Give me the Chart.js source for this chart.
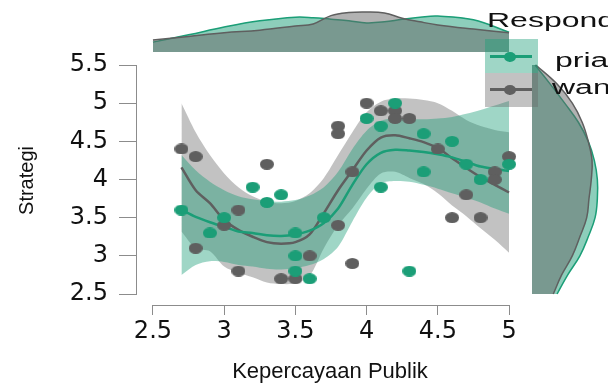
<!DOCTYPE html>
<html>
<head>
<meta charset="utf-8">
<script src="https://cdn.jsdelivr.net/npm/chart.js@4.4.1/dist/chart.umd.min.js"></script>
<style>
  html, body { margin: 0; padding: 0; background: #fff; }
  #wrap { position: relative; width: 608px; height: 385px; overflow: hidden; }
  #wrap canvas { position: absolute; left: 0; top: 0; }
  #legend { position: absolute; left: 0; top: 0; width: 608px; height: 385px; pointer-events: none;
            font-family: 'Liberation Sans', Arial, sans-serif; color: #111; }
  #legend div { position: absolute; }
  .lg-text { font-size: 20px; line-height: 20px; white-space: nowrap; transform: scaleX(1.6); transform-origin: 0 0; }
  .lg-box { width: 53px; height: 34px; }
  .lg-line { width: 42px; height: 3px; }
  .lg-dot { width: 12px; height: 10px; border-radius: 50%; }
</style>
</head>
<body>
<div id="wrap">
  <canvas id="mainChart" width="608" height="385"></canvas>
  <canvas id="topDens" width="608" height="60"></canvas>
  <canvas id="rightDens" width="608" height="385"></canvas>
  <div id="legend">
    <div class="lg-text" style="left:487px; top:10px;">Responden</div>
    <div class="lg-box" id="boxPria" style="left:485px; top:39px;"></div>
    <div class="lg-box" id="boxWanita" style="left:485px; top:73px;"></div>
    <div class="lg-line" id="linePria" style="left:490px; top:55px;"></div>
    <div class="lg-dot" id="dotPria" style="left:504px; top:52px;"></div>
    <div class="lg-line" id="lineWanita" style="left:490px; top:88px;"></div>
    <div class="lg-dot" id="dotWanita" style="left:504px; top:85px;"></div>
    <div class="lg-text" style="left:555px; top:50px;">pria</div>
    <div class="lg-text" style="left:552px; top:77px;">wanita</div>
  </div>
</div>
<script>
// Observations (x = Kepercayaan Publik, y = Strategi)
const priaX = [2.7, 2.9, 3.0, 3.2, 3.3, 3.4, 3.5, 3.5, 3.5, 3.6, 3.7, 4.0, 4.1, 4.1, 4.2, 4.3, 4.4, 4.4, 4.6, 4.7, 4.8, 5.0];
const priaY = [3.6, 3.3, 3.5, 3.9, 3.7, 3.8, 2.8, 3.0, 3.3, 2.7, 3.5, 4.8, 4.7, 3.9, 5.0, 2.8, 4.6, 4.1, 4.5, 4.2, 4.0, 4.2];
const wanitaX = [2.7, 2.8, 2.8, 3.0, 3.1, 3.1, 3.3, 3.4, 3.5, 3.6, 3.8, 3.8, 3.8, 3.9, 3.9, 4.0, 4.1, 4.2, 4.2, 4.3, 4.5, 4.6, 4.7, 4.8, 4.9, 4.9, 5.0];
const wanitaY = [4.4, 4.3, 3.1, 3.4, 3.6, 2.8, 4.2, 2.7, 2.7, 3.0, 4.7, 4.6, 3.4, 4.1, 2.9, 5.0, 4.9, 4.9, 4.8, 4.8, 4.4, 3.5, 3.8, 3.5, 4.1, 4.0, 4.3];

// Smooth fits with confidence bands
const fitX = [2.7, 2.8, 2.9, 3.0, 3.1, 3.2, 3.3, 3.4, 3.5, 3.6, 3.7, 3.8, 3.9, 4.0, 4.1, 4.2, 4.3, 4.4, 4.5, 4.6, 4.7, 4.8, 4.9, 5.0];
const priaFit = [3.60, 3.51, 3.44, 3.38, 3.32, 3.30, 3.27, 3.26, 3.28, 3.33, 3.43, 3.62, 3.93, 4.20, 4.35, 4.39, 4.38, 4.36, 4.33, 4.29, 4.23, 4.17, 4.14, 4.11];
const priaLo = [2.75, 2.88, 2.93, 2.92, 2.88, 2.86, 2.83, 2.82, 2.84, 2.88, 2.96, 3.12, 3.45, 3.76, 3.95, 3.98, 3.97, 3.93, 3.88, 3.82, 3.76, 3.70, 3.62, 3.55];
const priaHi = [4.32, 4.12, 3.97, 3.86, 3.78, 3.74, 3.72, 3.71, 3.73, 3.79, 3.90, 4.10, 4.40, 4.64, 4.77, 4.80, 4.79, 4.79, 4.80, 4.82, 4.86, 4.91, 4.97, 5.03];
const wanitaFit = [4.16, 3.86, 3.69, 3.47, 3.34, 3.25, 3.18, 3.16, 3.18, 3.28, 3.56, 3.86, 4.12, 4.38, 4.55, 4.58, 4.54, 4.49, 4.41, 4.28, 4.15, 4.03, 3.93, 3.83];
const wanitaLo = [3.32, 3.10, 3.06, 2.86, 2.78, 2.72, 2.65, 2.63, 2.64, 2.74, 3.10, 3.40, 3.62, 3.88, 4.08, 4.10, 4.02, 3.94, 3.82, 3.66, 3.52, 3.36, 3.21, 3.04];
const wanitaHi = [5.00, 4.62, 4.32, 4.08, 3.90, 3.78, 3.71, 3.69, 3.72, 3.82, 4.02, 4.32, 4.62, 4.88, 5.02, 5.06, 5.06, 5.04, 5.00, 4.90, 4.78, 4.70, 4.65, 4.62];

// Marginal densities (relative)
const densX = [2.5, 2.75, 3.0, 3.25, 3.5, 3.625, 3.75, 3.875, 4.0, 4.125, 4.25, 4.375, 4.5, 4.75, 5.0];
const priaDensX = [0.19, 0.33, 0.48, 0.60, 0.67, 0.66, 0.63, 0.60, 0.56, 0.58, 0.63, 0.67, 0.69, 0.62, 0.38];
const wanitaDensX = [0.23, 0.30, 0.37, 0.42, 0.50, 0.54, 0.70, 0.76, 0.77, 0.75, 0.65, 0.58, 0.52, 0.44, 0.37];
const densY = [2.5, 2.75, 3.0, 3.25, 3.5, 3.75, 4.0, 4.25, 4.5, 4.75, 5.0, 5.25, 5.5];
const priaDensY = [0.33, 0.47, 0.63, 0.74, 0.83, 0.86, 0.86, 0.82, 0.74, 0.61, 0.43, 0.24, 0.04];
const wanitaDensY = [0.28, 0.39, 0.53, 0.63, 0.72, 0.75, 0.78, 0.79, 0.74, 0.66, 0.53, 0.33, 0.05];

// Axes
const xTicks = [2.5, 3, 3.5, 4, 4.5, 5];
const yTicks = [2.5, 3, 3.5, 4, 4.5, 5, 5.5];
const X_MIN = 2.388, X_MAX = 5.098;
const Y_MIN = 2.356, Y_MAX = 5.618;

const GREEN = '#1b9e77';
const GRAY = '#5f5f5f';
const GREEN_FILL = 'rgba(27,158,119,0.42)';
const GRAY_FILL = 'rgba(102,102,102,0.40)';
const AXIS_COLOR = '#8c8c8c';

const pts = (xs, ys) => xs.map((x, i) => ({ x, y: ys[i] }));

function dotImage(color, w, h) {
  const c = document.createElement('canvas');
  c.width = w; c.height = h;
  const g = c.getContext('2d');
  g.fillStyle = color;
  g.beginPath();
  g.ellipse(w / 2, h / 2, w / 2, h / 2, 0, 0, Math.PI * 2);
  g.fill();
  return c;
}

// legend colours
document.getElementById('boxPria').style.background = GREEN_FILL;
document.getElementById('boxWanita').style.background = GRAY_FILL;
document.getElementById('linePria').style.background = GREEN;
document.getElementById('dotPria').style.background = GREEN;
document.getElementById('lineWanita').style.background = GRAY;
document.getElementById('dotWanita').style.background = GRAY;

// axis lines only between first and last tick, like base R
const axisLines = {
  id: 'axisLines',
  beforeDatasetsDraw(chart) {
    const { ctx, chartArea, scales: { x, y } } = chart;
    ctx.save();
    ctx.strokeStyle = AXIS_COLOR;
    ctx.lineWidth = 1;
    ctx.beginPath();
    ctx.moveTo(x.getPixelForValue(xTicks[0]), chartArea.bottom + 0.5);
    ctx.lineTo(x.getPixelForValue(xTicks[xTicks.length - 1]), chartArea.bottom + 0.5);
    ctx.moveTo(chartArea.left - 0.5, y.getPixelForValue(yTicks[0]));
    ctx.lineTo(chartArea.left - 0.5, y.getPixelForValue(yTicks[yTicks.length - 1]));
    ctx.stroke();
    ctx.restore();
  }
};

const fitLine = (ys, color) => ({
  type: 'line', data: pts(fitX, ys), borderColor: color, borderWidth: 2.5,
  pointRadius: 0, fill: false, tension: 0.3
});
const bandEdge = (ys, fill, color) => ({
  type: 'line', data: pts(fitX, ys), borderWidth: 0, borderColor: 'rgba(0,0,0,0)',
  backgroundColor: color, pointRadius: 0, fill: fill, tension: 0.3
});

new Chart(document.getElementById('mainChart'), {
  type: 'scatter',
  data: {
    datasets: [
      { label: 'pria', data: pts(priaX, priaY), pointStyle: dotImage(GREEN, 14, 11), pointRadius: 7 },
      { label: 'wanita', data: pts(wanitaX, wanitaY), pointStyle: dotImage(GRAY, 14, 11), pointRadius: 7 },
      fitLine(priaFit, GREEN),
      fitLine(wanitaFit, GRAY),
      bandEdge(priaLo, false, GREEN_FILL),
      bandEdge(priaHi, '-1', GREEN_FILL),
      bandEdge(wanitaLo, false, GRAY_FILL),
      bandEdge(wanitaHi, '-1', GRAY_FILL)
    ]
  },
  options: {
    responsive: false,
    animation: false,
    clip: false,
    layout: { padding: { left: 0, right: 85, top: 56, bottom: 0 } },
    plugins: { legend: { display: false }, tooltip: { enabled: false } },
    scales: {
      x: {
        type: 'linear', min: X_MIN, max: X_MAX,
        afterBuildTicks: s => { s.ticks = xTicks.map(v => ({ value: v })); },
        afterFit: s => { s.height = 80; },
        grid: { drawOnChartArea: false, drawTicks: true, tickLength: 10, color: AXIS_COLOR },
        border: { display: false },
        ticks: { font: { family: 'DejaVu Sans', size: 24 }, color: '#111', padding: 2, maxRotation: 0,
                 callback: v => String(v) },
        title: { display: true, text: 'Kepercayaan Publik', color: '#111',
                 font: { family: 'Liberation Sans', size: 22 }, padding: { top: 1, bottom: 0 } }
      },
      y: {
        type: 'linear', min: Y_MIN, max: Y_MAX,
        afterBuildTicks: s => { s.ticks = yTicks.map(v => ({ value: v })); },
        afterFit: s => { s.width = 137; },
        grid: { drawOnChartArea: false, drawTicks: true, tickLength: 18, color: AXIS_COLOR },
        border: { display: false },
        ticks: { font: { family: 'DejaVu Sans', size: 24 }, color: '#111', padding: 11,
                 callback: v => String(v) },
        title: { display: true, text: 'Strategi', color: '#111',
                 font: { family: 'Liberation Sans', size: 20 }, padding: { top: 15, bottom: 0 } }
      }
    }
  },
  plugins: [axisLines]
});

const densLine = (data, color, fillColor) => ({
  data, borderColor: color, borderWidth: 1.5, backgroundColor: fillColor,
  fill: 'origin', pointRadius: 0, tension: 0.4
});

// top margin: density of Kepercayaan Publik
new Chart(document.getElementById('topDens'), {
  type: 'line',
  data: {
    datasets: [
      densLine(pts(densX, wanitaDensX), GRAY, 'rgba(102,102,102,0.5)'),
      densLine(pts(densX, priaDensX), GREEN, 'rgba(27,158,119,0.5)')
    ]
  },
  options: {
    responsive: false, animation: false,
    layout: { padding: { left: 137, right: 85, top: 0, bottom: 8 } },
    plugins: { legend: { display: false }, tooltip: { enabled: false } },
    scales: {
      x: { type: 'linear', min: X_MIN, max: X_MAX, display: false },
      y: { type: 'linear', min: 0, max: 1, display: false }
    }
  }
});

// right margin: density of Strategi
new Chart(document.getElementById('rightDens'), {
  type: 'line',
  data: {
    datasets: [
      densLine(pts(wanitaDensY, densY), GRAY, 'rgba(102,102,102,0.5)'),
      densLine(pts(priaDensY, densY), GREEN, 'rgba(27,158,119,0.5)')
    ]
  },
  options: {
    indexAxis: 'y',
    responsive: false, animation: false,
    layout: { padding: { left: 532, right: 0, top: 56, bottom: 80 } },
    plugins: { legend: { display: false }, tooltip: { enabled: false } },
    scales: {
      x: { type: 'linear', min: 0, max: 1, display: false },
      y: { type: 'linear', min: Y_MIN, max: Y_MAX, display: false }
    }
  }
});
</script>
</body>
</html>
